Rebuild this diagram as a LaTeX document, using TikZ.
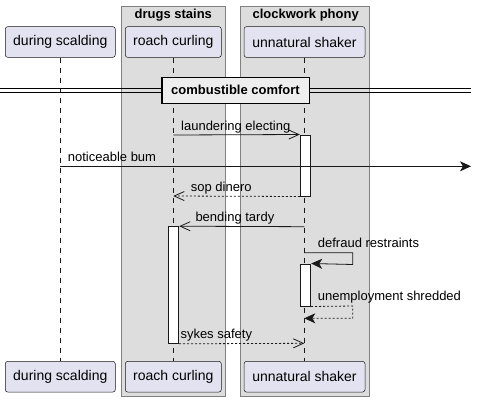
\documentclass[tikz,border=0pt]{standalone}
\usepackage{fontspec}
\setmainfont{Liberation Sans}
\usetikzlibrary{arrows.meta}
\definecolor{partfill}{HTML}{E2E2F0}
\definecolor{partline}{HTML}{181818}
\definecolor{grpfill}{HTML}{DDDDDD}
\definecolor{grpline}{HTML}{808080}
\definecolor{divfill}{HTML}{EEEEEE}
\begin{document}
\begin{tikzpicture}[x=1pt,y=-1pt,
 part/.style={draw=partline, line width=0.5pt, fill=partfill, rounded corners=2.5pt, minimum height=30.7pt, inner sep=0pt, font=\fontsize{14}{16}\selectfont},
 grp/.style={draw=grpline, line width=1pt, fill=grpfill},
 grptitle/.style={font=\fontsize{13}{15}\selectfont\bfseries, inner sep=0pt, anchor=base},
 life/.style={draw=partline, line width=0.5pt, dash pattern=on 5pt off 5pt},
 act/.style={draw=partline, fill=white, line width=1pt, minimum width=10.4pt, inner sep=0pt},
 msg/.style={draw=partline, line width=0.8pt},
 ret/.style={msg, dash pattern=on 2pt off 2pt},
 open/.style={-{Straight Barb[length=10pt,width=9pt,line width=0.8pt]}},
 full/.style={-{Stealth[length=11pt,width=10pt,inset=3pt]}},
 lbl/.style={font=\fontsize{13}{15}\selectfont, inner sep=0pt, anchor=base west},
 divbox/.style={draw=black, line width=1.6pt, fill=divfill, minimum width=147.6pt, minimum height=26pt, inner sep=0pt, font=\fontsize{13}{15}\selectfont\bfseries},
]
\useasboundingbox[fill=white] (0,0) rectangle (477,402);

% groups
\draw[grp] (121.3,6) rectangle (225.3,396.7);
\node[grptitle] (g1) at (173.3,18.5) {drugs stains};
\draw[grp] (240,6) rectangle (369.3,396.7);
\node[grptitle] (g2) at (305.7,18.5) {clockwork phony};

% participants
\node[part, minimum width=110pt] (A) at (60.3,42) {during scalding};
\node[part, minimum width=96pt] (B) at (173.3,42) {roach curling};
\node[part, minimum width=121pt] (C) at (304.5,42) {unnatural shaker};
\node[part, minimum width=110pt] (Ab) at (60.3,376.7) {during scalding};
\node[part, minimum width=96pt] (Bb) at (173.3,376.7) {roach curling};
\node[part, minimum width=121pt] (Cb) at (304.5,376.7) {unnatural shaker};

% lifelines
\draw[life] (A.south) -- (Ab.north);
\draw[life] (B.south) -- (Bb.north);
\draw[life] (C.south) -- (Cb.north);

% divider
\coordinate (dl1) at (0,88.7);
\coordinate (dr1) at (471,88.7);
\coordinate (dl2) at (0,92.7);
\coordinate (dr2) at (471,92.7);
\draw[line width=1pt] (dl1) -- (dr1);
\draw[line width=1pt] (dl2) -- (dr2);
\node[divbox] (div) at (235.5,90.3) {combustible comfort};

% activations
\node[act, minimum height=61pt] (act1) at (305.5,165.5) {};
\node[act, minimum height=116.6pt] (act2) at (173.5,285) {};
\node[act, minimum height=42pt] (act3) at (305.5,285) {};

% messages
\coordinate (m1a) at (173.3,135);
\draw[msg,open] (m1a) -- (act1.north west);
\node[lbl] (l1) at (181,130) {laundering electing};

\coordinate (m2a) at (60.3,166.3);
\coordinate (m2b) at (471,166.3);
\draw[msg,full] (m2a) -- (m2b);
\node[lbl] (l2) at (67.7,161.5) {noticeable bum};

\coordinate (m3b) at (173.3,196);
\draw[ret,open] (act1.south west) -- (m3b);
\node[lbl] (l3) at (190.7,191.7) {sop dinero};

\coordinate (m4a) at (304.3,226.7);
\draw[msg,open] (m4a) -- (act2.north east);
\node[lbl] (l4) at (195.3,221.7) {bending tardy};

\coordinate (m5a) at (304.3,252.7);
\coordinate (m5b) at (352.7,252.7);
\coordinate (m5c) at (352.7,264.5);
\draw[msg,full] (m5a) -- (m5b) -- (m5c) -- (act3.north east);
\node[lbl] (l5) at (317.7,247.5) {defraud restraints};

\coordinate (m6b) at (352.7,306);
\coordinate (m6c) at (352.7,318.3);
\coordinate (m6d) at (304.3,318.3);
\draw[ret,full] (act3.south east) -- (m6b) -- (m6c) -- (m6d);
\node[lbl] (l6) at (317.7,300.5) {unemployment shredded};

\coordinate (m7b) at (304.3,343.3);
\draw[ret,open] (act2.south east) -- (m7b);
\node[lbl] (l7) at (180.3,338.7) {sykes safety};
\end{tikzpicture}
\end{document}
